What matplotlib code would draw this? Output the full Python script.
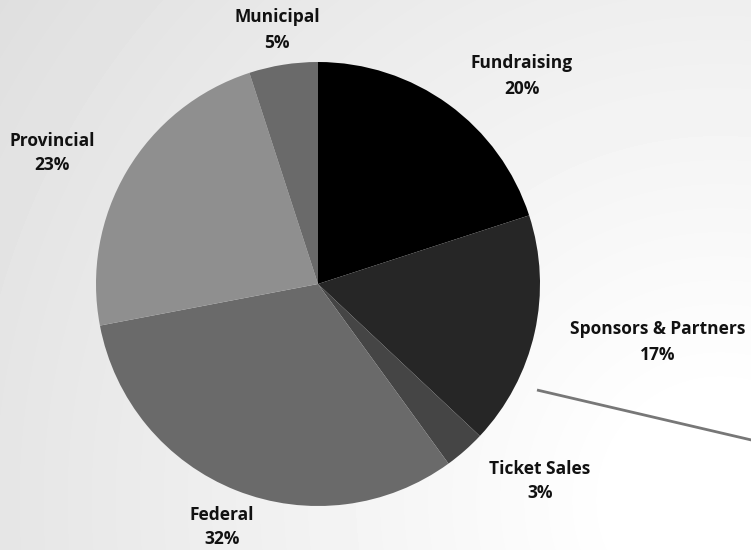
import numpy as np
import matplotlib.pyplot as plt

# data
labels = ["Fundraising", "Sponsors & Partners", "Ticket Sales", "Federal", "Provincial", "Municipal"]
shares = [20, 17, 3, 32, 23, 5]
colors = ["#000000", "#262626", "#454545", "#6a6a6a", "#8f8f8f", "#6a6a6a"]

# label anchor points in pixels (layout only)
label_px = [(522, 76), (658, 342), (540, 481), (222, 527), (52, 153), (277, 30)]

W, H = 751, 550
fig = plt.figure(figsize=(W / 100, H / 100), dpi=100)

# background radial gradient
bg = fig.add_axes([0, 0, 1, 1])
yy, xx = np.mgrid[0:H, 0:W]
d = np.sqrt((xx - 720) ** 2 + (yy - 500) ** 2)
v = 1.0 - 0.13 * np.clip((d - 100) / 800.0, 0, 1)
bg.imshow(v, cmap="gray", vmin=0, vmax=1, extent=[0, W, H, 0], aspect="auto", interpolation="bilinear")
bg.set_xlim(0, W)
bg.set_ylim(H, 0)
bg.axis("off")

# decorative line
bg.plot([537, 760], [390, 442], color="#777777", lw=2, solid_capstyle="butt")

# pie
cx, cy, r = 318, 284, 222
ax = fig.add_axes([(cx - r) / W, (H - cy - r) / H, 2 * r / W, 2 * r / H])
ax.pie(shares, colors=colors, startangle=90, counterclock=False,
       wedgeprops=dict(linewidth=0))
ax.set_xlim(-1, 1)
ax.set_ylim(-1, 1)
ax.set_aspect("auto")
ax.axis("off")

for name, val, (px, py) in zip(labels, shares, label_px):
    fig.text(px / W, 1 - py / H, f"{name}\n{val}%", ha="center", va="center",
             fontsize=12.5, fontweight="bold", family=["Open Sans", "DejaVu Sans"],
             color="#111111", linespacing=1.5)

fig.savefig("out.png", dpi=100)
